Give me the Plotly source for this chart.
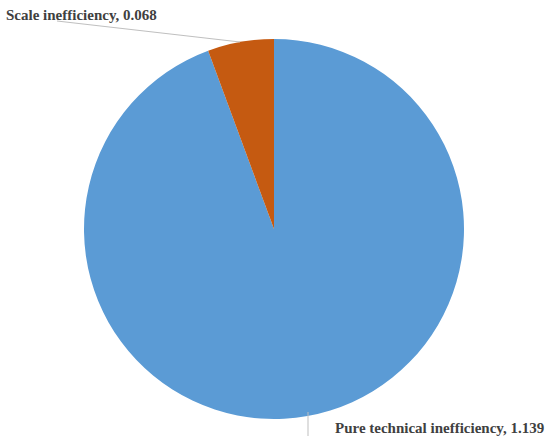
import plotly.graph_objects as go

labels = ["Pure technical inefficiency", "Scale inefficiency"]
values = [1.139, 0.068]
colors = ["#5B9BD5", "#C55A11"]

W, H = 550, 445


def px_x(x):
    return x / W


def px_y(y):
    return 1 - y / H


fig = go.Figure(
    go.Pie(
        labels=labels,
        values=values,
        sort=False,
        direction="clockwise",
        rotation=0,
        marker=dict(colors=colors, line=dict(color="white", width=0)),
        textinfo="none",
        hoverinfo="label+value",
        showlegend=False,
        domain=dict(x=[px_x(84), px_x(464)], y=[px_y(419), px_y(39)]),
    )
)

font = dict(family="Liberation Serif", size=15, color="#404040")

fig.add_annotation(
    x=px_x(4), y=px_y(15), xref="paper", yref="paper",
    text="<b>%s, %.3f</b>" % (labels[1], values[1]),
    showarrow=False, xanchor="left", yanchor="middle", font=font,
)
fig.add_annotation(
    x=px_x(333), y=px_y(428), xref="paper", yref="paper",
    text="<b>%s, %.3f</b>" % (labels[0], values[0]),
    showarrow=False, xanchor="left", yanchor="middle", font=font,
)

# leader lines
fig.add_shape(type="line", xref="paper", yref="paper",
              x0=px_x(57), y0=px_y(21), x1=px_x(240), y1=px_y(42),
              line=dict(color="#bfbfbf", width=1))
fig.add_shape(type="line", xref="paper", yref="paper",
              x0=px_x(308), y0=px_y(412), x1=px_x(308), y1=px_y(436),
              line=dict(color="#bfbfbf", width=1))

fig.update_layout(
    width=W, height=H,
    margin=dict(l=0, r=0, t=0, b=0),
    paper_bgcolor="white",
    plot_bgcolor="white",
)

fig.write_html(
    "out.html",
    config={"displayModeBar": False},
    post_script="document.body.style.margin='0';",
)
